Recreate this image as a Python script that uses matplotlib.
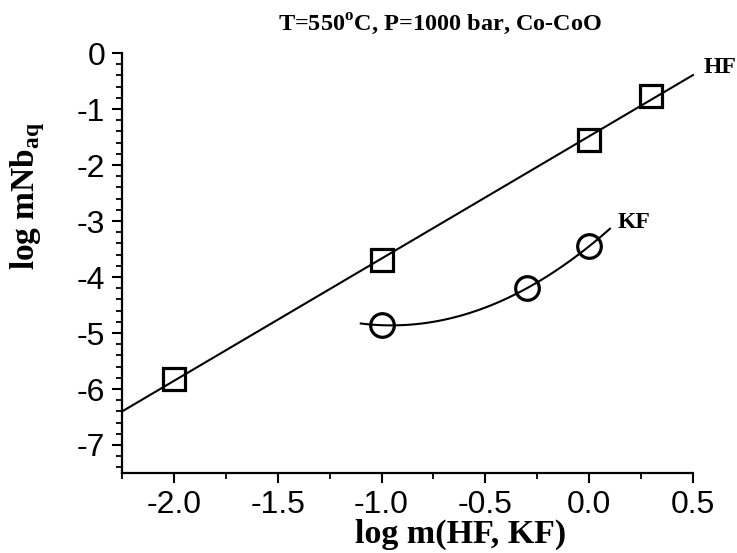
#!/usr/bin/env python3
"""
Nb solubility vs log m(HF, KF) at 550 C, 1000 bar, Co-CoO buffer
"""
import numpy as np
import matplotlib
matplotlib.use("Agg")
import matplotlib.pyplot as plt
from matplotlib.ticker import MultipleLocator, FormatStrFormatter

plt.rcParams["axes.unicode_minus"] = False
plt.rcParams["mathtext.fontset"] = "custom"
plt.rcParams["mathtext.rm"] = "Liberation Serif:bold"

# HF series (squares)
hf_x = [-2.0, -1.0, 0.0, 0.3]
hf_y = [-5.83, -3.70, -1.55, -0.76]

# KF series (circles)
kf_x = [-1.0, -0.3, 0.0]
kf_y = [-4.86, -4.20, -3.45]

x_ticks = [-2.0, -1.5, -1.0, -0.5, 0.0, 0.5]
y_ticks = [0, -1, -2, -3, -4, -5, -6, -7]

serif = "Liberation Serif"
sans = "Liberation Sans"

fig = plt.figure(figsize=(7.37, 5.53), dpi=100)
ax = fig.add_axes([0.1655, 0.1447, 0.7748, 0.7593])

# HF: straight line fit
p_hf = np.polyfit(hf_x, hf_y, 1)
xl = np.linspace(-2.25, 0.5, 50)
ax.plot(xl, np.polyval(p_hf, xl), color="black", lw=1.5, clip_on=False)
ax.plot(hf_x, hf_y, ls="none", marker="s", ms=16, mfc="none",
        mec="black", mew=2.3, clip_on=False)

# KF: quadratic through points
p_kf = np.polyfit(kf_x, kf_y, 2)
xk = np.linspace(-1.1, 0.1, 60)
ax.plot(xk, np.polyval(p_kf, xk), color="black", lw=1.5)
ax.plot(kf_x, kf_y, ls="none", marker="o", ms=17, mfc="none",
        mec="black", mew=2.3)

ax.text(0.55, -0.25, "HF", fontfamily=serif, fontweight="bold",
        fontsize=17, va="center", ha="left", clip_on=False)
ax.text(0.135, -3.02, "KF", fontfamily=serif, fontweight="bold",
        fontsize=17, va="center", ha="left")

ax.set_xlim(-2.25, 0.5)
ax.set_ylim(-7.5, 0)
ax.xaxis.set_minor_locator(MultipleLocator(0.25))
ax.xaxis.set_major_formatter(FormatStrFormatter("%.1f"))
ax.set_xticks(x_ticks)
ax.yaxis.set_minor_locator(MultipleLocator(0.2))
ax.set_yticks(y_ticks)
ax.set_yticklabels([str(v) for v in y_ticks])

for side in ["top", "right"]:
    ax.spines[side].set_visible(False)
for side in ["left", "bottom"]:
    ax.spines[side].set_linewidth(1.6)

ax.tick_params(which="major", direction="out", length=7, width=1.5,
               labelsize=23, pad=5)
ax.tick_params(which="minor", direction="out", length=4, width=1.3)
for lab in ax.get_xticklabels() + ax.get_yticklabels():
    lab.set_fontfamily(sans)

fig.text(0.597, 0.955, r"T=550$^{\mathrm{o}}$C, P=1000 bar, Co-CoO",
         fontfamily=serif, fontweight="bold", fontsize=17.5,
         ha="center", va="center")
fig.text(0.625, 0.033, "log m(HF, KF)", fontfamily=serif,
         fontweight="bold", fontsize=24.5, ha="center", va="center")
fig.text(0.038, 0.646, r"log mNb$_{\mathrm{aq}}$", fontfamily=serif,
         fontweight="bold", fontsize=24, ha="center", va="center",
         rotation=90)

fig.savefig("out.png", dpi=100)
